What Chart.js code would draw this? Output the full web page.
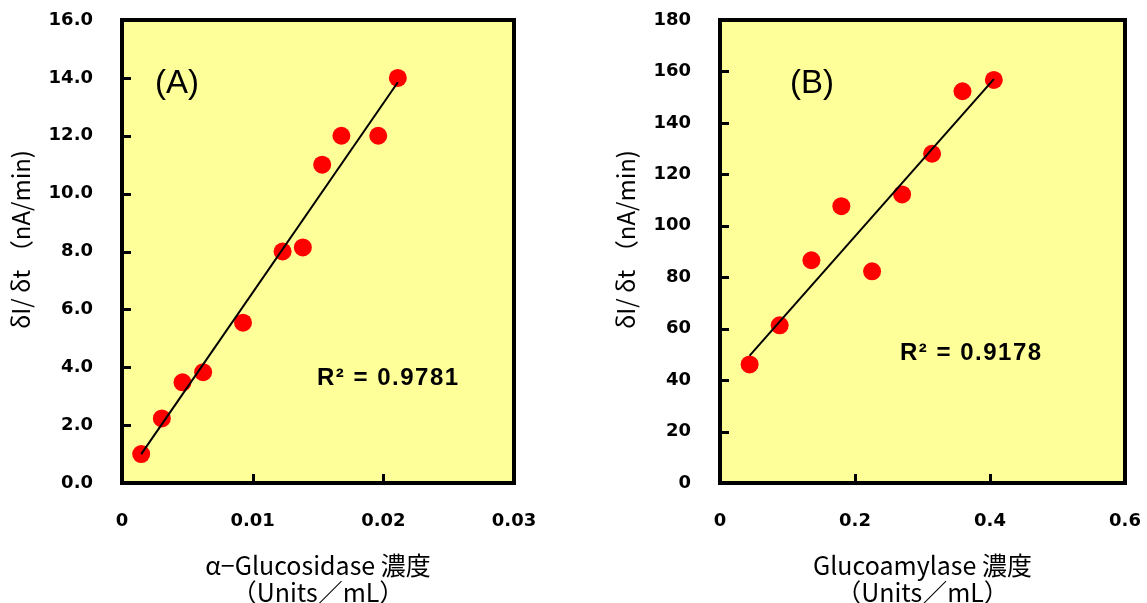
<!DOCTYPE html>
<html>
<head>
<meta charset="utf-8">
<script src="https://cdn.jsdelivr.net/npm/chart.js@4/dist/chart.umd.min.js"></script>
<style>
  body { margin: 0; background: #fff; width: 1147px; height: 603px; overflow: hidden; position: relative; }
  canvas { position: absolute; top: 0; }
  #grafA { left: 0; }
  #grafB { left: 600px; }
</style>
</head>
<body>
<canvas id="grafA" width="600" height="603"></canvas>
<canvas id="grafB" width="547" height="603"></canvas>
<script>
// (A) alpha-Glucosidase
var concA = [0.00147, 0.00305, 0.00463, 0.00621, 0.00926, 0.01229, 0.01384, 0.01532, 0.01679, 0.01961, 0.02111];
var rateA = [1.0, 2.23, 3.48, 3.83, 5.54, 8.0, 8.14, 11.0, 12.0, 12.0, 14.0];
var trendXA = [0.00147, 0.02111];
var trendYA = [1.0, 13.85];
var xTicksA = [0, 0.01, 0.02, 0.03];
var xLabelsA = ['0', '0.01', '0.02', '0.03'];
var yTicksA = [0, 2, 4, 6, 8, 10, 12, 14, 16];
var yLabelsA = ['0.0', '2.0', '4.0', '6.0', '8.0', '10.0', '12.0', '14.0', '16.0'];

// (B) Glucoamylase
var concB = [0.0439, 0.0884, 0.1354, 0.1798, 0.2253, 0.2698, 0.3142, 0.3592, 0.4057];
var rateB = [46.1, 61.3, 86.6, 107.6, 82.3, 112.2, 128.0, 152.3, 156.7];
var trendXB = [0.0439, 0.4057];
var trendYB = [49.5, 157.0];
var xTicksB = [0, 0.2, 0.4, 0.6];
var xLabelsB = ['0', '0.2', '0.4', '0.6'];
var yTicksB = [0, 20, 40, 60, 80, 100, 120, 140, 160, 180];
var yLabelsB = ['0', '20', '40', '60', '80', '100', '120', '140', '160', '180'];

var yTitle = '\u3000δI/ δt （nA/min)';

function pares(xs, ys) {
  return xs.map(function (x, i) { return { x: x, y: ys[i] }; });
}

// fondo amarillo, marco negro, marcas hacia adentro y textos
var marco = {
  id: 'marco',
  beforeDraw: function (chart) {
    var a = chart.chartArea, ctx = chart.ctx;
    ctx.save();
    ctx.fillStyle = '#ffff99';
    ctx.fillRect(a.left, a.top, a.right - a.left, a.bottom - a.top);
    ctx.restore();
  },
  afterDraw: function (chart, args, o) {
    var a = chart.chartArea, ctx = chart.ctx;
    var sx = chart.scales.x, sy = chart.scales.y;
    ctx.save();
    ctx.strokeStyle = '#000';
    ctx.lineWidth = 3;
    ctx.beginPath();
    sy.ticks.forEach(function (t) {
      if (t.value <= sy.min || t.value >= sy.max) return;
      var p = Math.round(sy.getPixelForValue(t.value)) + 0.5;
      ctx.moveTo(a.left, p); ctx.lineTo(a.left + 9, p);
    });
    sx.ticks.forEach(function (t) {
      if (t.value <= sx.min || t.value >= sx.max) return;
      var p = Math.round(sx.getPixelForValue(t.value)) + 0.5;
      ctx.moveTo(p, a.bottom); ctx.lineTo(p, a.bottom - 9);
    });
    ctx.stroke();
    ctx.lineWidth = 4;
    ctx.strokeRect(a.left, a.top, a.right - a.left, a.bottom - a.top);

    ctx.fillStyle = '#000';
    ctx.textBaseline = 'alphabetic';
    ctx.font = '33px "Liberation Sans"';
    ctx.fillText(o.label, a.left + o.labelDx, a.top + 73);
    ctx.font = 'bold 24px "Liberation Sans"';
    ctx.letterSpacing = '1.5px';
    ctx.fillText('R² = ' + o.r2, a.left + o.r2Dx, o.r2Y);
    ctx.restore();
  }
};

function crearGrafico(id, cfg) {
  var ctx = document.getElementById(id);
  return new Chart(ctx, {
    type: 'scatter',
    data: {
      datasets: [{
        data: pares(cfg.trendX, cfg.trendY),
        showLine: true,
        borderColor: '#000',
        borderWidth: 2,
        pointRadius: 0
      }, {
        data: pares(cfg.xs, cfg.ys),
        backgroundColor: '#ff0000',
        borderWidth: 0,
        pointRadius: 9
      }]
    },
    options: {
      responsive: false,
      animation: false,
      layout: { padding: { top: 20, right: cfg.padRight, bottom: 0, left: 0 } },
      plugins: {
        legend: { display: false },
        tooltip: { enabled: false },
        marco: { label: cfg.label, labelDx: cfg.labelDx, r2: cfg.r2, r2Dx: cfg.r2Dx, r2Y: cfg.r2Y }
      },
      scales: {
        x: {
          type: 'linear',
          min: 0,
          max: cfg.xTicks[cfg.xTicks.length - 1],
          afterBuildTicks: function (s) { s.ticks = cfg.xTicks.map(function (v) { return { value: v }; }); },
          afterFit: function (s) { s.height = 120; s.paddingLeft = 0; s.paddingRight = 0; },
          grid: { display: false, drawTicks: false },
          border: { display: false },
          ticks: {
            padding: 28,
            color: '#000',
            font: { family: 'DejaVu Sans', size: 18, weight: 'bold' },
            callback: function (v, i) { return cfg.xLabels[i]; }
          },
          title: {
            display: true,
            text: cfg.xTitle,
            color: '#000',
            font: { family: 'Noto Sans CJK JP', size: 25, lineHeight: 1.08 },
            padding: { top: 0, bottom: -3 }
          }
        },
        y: {
          type: 'linear',
          min: 0,
          max: cfg.yTicks[cfg.yTicks.length - 1],
          afterBuildTicks: function (s) { s.ticks = cfg.yTicks.map(function (v) { return { value: v }; }); },
          afterFit: function (s) { s.width = cfg.yWidth; s.paddingTop = 0; s.paddingBottom = 0; },
          grid: { display: false, drawTicks: false },
          border: { display: false },
          ticks: {
            padding: 29,
            color: '#000',
            font: { family: 'DejaVu Sans', size: 18, weight: 'bold' },
            callback: function (v, i) { return cfg.yLabels[i]; }
          },
          title: {
            display: true,
            text: yTitle,
            color: '#000',
            font: { family: 'Noto Sans CJK JP', size: 24, lineHeight: 1.1 },
            padding: { top: cfg.yTitlePad, bottom: 0 }
          }
        }
      }
    },
    plugins: [marco]
  });
}

crearGrafico('grafA', {
  xs: concA, ys: rateA, trendX: trendXA, trendY: trendYA,
  xTicks: xTicksA, xLabels: xLabelsA, yTicks: yTicksA, yLabels: yLabelsA,
  xTitle: ['α−Glucosidase 濃度', '（Units／mL）'],
  yWidth: 122, padRight: 86, yTitlePad: 8,
  label: '(A)', labelDx: 33, r2: '0.9781', r2Dx: 195, r2Y: 385
});

crearGrafico('grafB', {
  xs: concB, ys: rateB, trendX: trendXB, trendY: trendYB,
  xTicks: xTicksB, xLabels: xLabelsB, yTicks: yTicksB, yLabels: yLabelsB,
  xTitle: ['Glucoamylase 濃度', '（Units／mL）'],
  yWidth: 120, padRight: 22, yTitlePad: 13,
  label: '(B)', labelDx: 70, r2: '0.9178', r2Dx: 180, r2Y: 360
});
</script>
</body>
</html>
